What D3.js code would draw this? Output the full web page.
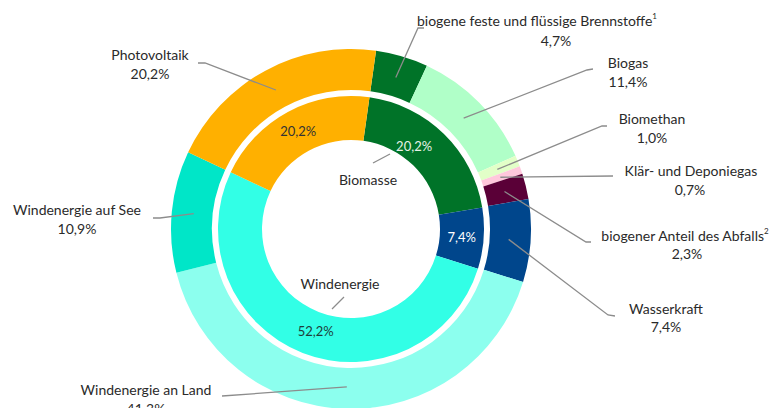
<!DOCTYPE html>
<html>
<head>
<meta charset="utf-8">
<script src="https://cdn.jsdelivr.net/npm/d3@7"></script>
<style>
  html, body { margin: 0; padding: 0; background: #fff; }
  svg { display: block; }
  text { font-family: Lato, "Open Sans", sans-serif; }
</style>
</head>
<body>
<svg id="chart" width="772" height="408"></svg>
<script>
// ---------- data ----------
const innerCategories = ["Biomasse", "Wasserkraft", "Windenergie", "Photovoltaik"];
const innerValues     = [20.2, 7.4, 52.2, 20.2];
const innerLabels     = ["20,2%", "7,4%", "52,2%", "20,2%"];

const outerCategories = ["biogene feste und flüssige Brennstoffe", "Biogas", "Biomethan",
  "Klär- und Deponiegas", "biogener Anteil des Abfalls", "Wasserkraft",
  "Windenergie an Land", "Windenergie auf See", "Photovoltaik"];
const outerValues     = [4.7, 11.4, 1.0, 0.7, 2.3, 7.4, 41.3, 10.9, 20.2];
const outerLabels     = ["4,7%", "11,4%", "1,0%", "0,7%", "2,3%", "7,4%", "41,3%", "10,9%", "20,2%"];
const outerFootnotes  = ["1", "", "", "", "2", "", "", "", ""];

// ---------- styles / layout ----------
const innerColors = ["#007328", "#00468c", "#32ffe6", "#ffb000"];
const innerTextColors = ["#e6f2e6", "#ffffff", "#1f3d3a", "#333333"];
const outerColors = ["#007328", "#b0ffc8", "#e2ffc8", "#ffc8dc", "#5a0037",
  "#00468c", "#8cffee", "#00e6c8", "#ffb000"];

const cx = 351, cy = 229;
const rHole = 89, rInnerOuter = 133, rOuterInner = 139, rOuter = 180;
const startAngle = 8 * Math.PI / 180;

// label positions (layout): [line1 x, line1 y, line2 x, line2 y]
const outerLabelPos = [
  [537, 20, 556, 40],
  [628, 62, 628, 81],
  [652, 118, 652, 137],
  [691, 170, 690, 189],
  [685, 235, 687, 253],
  [666, 308, 666, 326],
  [146, 389, 146, 408],
  [77, 209, 77, 228],
  [150, 54, 150, 73]
];
// leader polylines after the start point (layout)
const outerLeaderPts = [
  [[418, 28], [424, 28]],
  [[587, 70], [593, 69]],
  [[602, 126], [607, 126]],
  [[613, 176]],
  [[586, 242], [591, 242]],
  [[608, 315], [615, 316]],
  [[222, 396]],
  [[160, 218], [153, 218]],
  [[205, 63], [198, 63]]
];
const innerValueOffset = [[0, 0], [0, 0], [5, -1], [0, 0]];

const svg = d3.select("#chart");
const g = svg.append("g").attr("transform", `translate(${cx},${cy})`);

const pie = d3.pie().sort(null).value(d => d)
  .startAngle(startAngle).endAngle(startAngle + 2 * Math.PI);

const innerArcs = pie(innerValues);
const outerArcs = pie(outerValues);

const arcInner = d3.arc().innerRadius(rHole).outerRadius(rInnerOuter);
const arcOuter = d3.arc().innerRadius(rOuterInner).outerRadius(rOuter);
const arcOuterMid = d3.arc().innerRadius(158).outerRadius(158);
const arcInnerMid = d3.arc().innerRadius(111).outerRadius(111);

g.selectAll("path.outer").data(outerArcs).join("path")
  .attr("class", "outer")
  .attr("d", arcOuter)
  .attr("fill", (d, i) => outerColors[i]);

g.selectAll("path.inner").data(innerArcs).join("path")
  .attr("class", "inner")
  .attr("d", arcInner)
  .attr("fill", (d, i) => innerColors[i]);

// leader lines for outer ring
const line = d3.line();
outerArcs.forEach((d, i) => {
  const c = arcOuterMid.centroid(d);
  const pts = [[c[0] + cx, c[1] + cy]].concat(outerLeaderPts[i]);
  svg.append("path")
    .attr("d", line(pts))
    .attr("fill", "none")
    .attr("stroke", "#8c8c8c")
    .attr("stroke-width", 1.3);
});

// outer labels
outerArcs.forEach((d, i) => {
  const p = outerLabelPos[i];
  const t1 = svg.append("text")
    .attr("x", p[0]).attr("y", p[1])
    .attr("text-anchor", "middle")
    .attr("dominant-baseline", "central")
    .attr("font-size", 14)
    .attr("fill", "#2a2a2a");
  t1.append("tspan").text(outerCategories[i]);
  if (outerFootnotes[i]) {
    t1.append("tspan").attr("dy", -4).attr("font-size", 8).text(outerFootnotes[i]);
  }
  svg.append("text")
    .attr("x", p[2]).attr("y", p[3])
    .attr("text-anchor", "middle")
    .attr("dominant-baseline", "central")
    .attr("font-size", 14)
    .attr("fill", "#2a2a2a")
    .text(outerLabels[i]);
});

// inner value labels
innerArcs.forEach((d, i) => {
  let c = arcInnerMid.centroid(d);
  if (i === 0) {
    // Biomasse value label sits a bit counter-clockwise of centroid
    const a = (d.startAngle + d.endAngle) / 2 - 7 * Math.PI / 180;
    c = [Math.sin(a) * 104, -Math.cos(a) * 104];
  }
  svg.append("text")
    .attr("x", c[0] + cx + innerValueOffset[i][0])
    .attr("y", c[1] + cy + innerValueOffset[i][1])
    .attr("text-anchor", "middle")
    .attr("dominant-baseline", "central")
    .attr("font-size", 13)
    .attr("fill", innerTextColors[i])
    .text(innerLabels[i]);
});

// inner category labels (Biomasse, Windenergie) with small leaders in hole
const innerCatLabels = [
  { name: innerCategories[0], x: 368, y: 179, l: [[373, 163], [390, 154]] },
  { name: innerCategories[2], x: 340, y: 283, l: [[332, 309], [344, 297]] }
];
innerCatLabels.forEach(o => {
  svg.append("path").attr("d", line(o.l))
    .attr("fill", "none").attr("stroke", "#8c8c8c").attr("stroke-width", 1.3);
  svg.append("text")
    .attr("x", o.x).attr("y", o.y)
    .attr("text-anchor", "middle")
    .attr("dominant-baseline", "central")
    .attr("font-size", 14)
    .attr("fill", "#2a2a2a")
    .text(o.name);
});
</script>
</body>
</html>
